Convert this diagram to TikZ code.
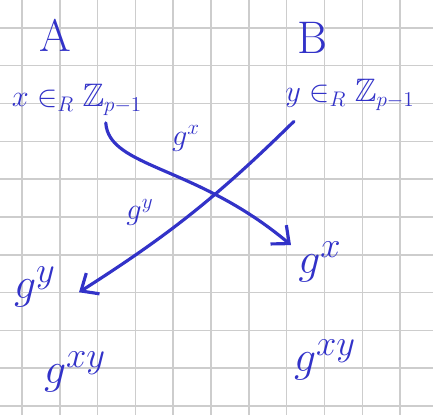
\documentclass[tikz,border=0pt]{standalone}
\usepackage{amssymb}
\usetikzlibrary{arrows.meta}
\definecolor{ink}{RGB}{50,50,200}
\definecolor{paper}{RGB}{205,205,205}

\begin{document}
\begin{tikzpicture}[x=0.02cm,y=-0.02cm,>={Straight Barb[length=8pt,width=14pt]},
    lbl/.style={text=ink,inner sep=0pt},
    conn/.style={ink,line width=1.8pt,line cap=round,line join=round,->}]
    \def\sq{37.8}
    \useasboundingbox (0,0) rectangle (433,415);
    % squared paper
    \foreach \i in {0,...,10}{
        \draw[paper,line width=0.8pt] (22+\sq*\i,0) -- (22+\sq*\i,415);
        \draw[paper,line width=0.8pt] (0,28+\sq*\i) -- (433,28+\sq*\i);
    }
    \node[lbl,font=\fontsize{26}{26}\selectfont] (A) at (55,35) {A};
    \node[lbl,font=\fontsize{26}{26}\selectfont] (B) at (312,38) {B};
    \node[lbl,font=\fontsize{18.5}{18.5}\selectfont] (xA) at (77,100) {$x \in_R \mathbb{Z}_{p-1}$};
    \node[lbl,font=\fontsize{18.5}{18.5}\selectfont] (yB) at (350,95) {$y \in_R \mathbb{Z}_{p-1}$};
    \node[lbl,font=\fontsize{28}{28}\selectfont] (gyA) at (35,287) {$g^y$};
    \node[lbl,font=\fontsize{28}{28}\selectfont] (gxB) at (320,262) {$g^x$};
    \node[lbl,font=\fontsize{30}{30}\selectfont] (gxyA) at (75,372) {$g^{xy}$};
    \node[lbl,font=\fontsize{30}{30}\selectfont] (gxyB) at (325,360) {$g^{xy}$};
    % exchange
    \draw[conn] ([xshift=5pt,yshift=-6pt]yB.south west) to[bend left=6] ([xshift=13pt,yshift=-3pt]gyA.east);
    \draw[conn] ([xshift=-3pt,yshift=-4pt]xA.-25) .. controls +(3,45) and +(-95,-80) .. ([xshift=-4pt,yshift=-2pt]gxB.north west);
    \node[lbl,font=\fontsize{18}{18}\selectfont] (lx) at (186,138) {$g^x$};
    \node[lbl,font=\fontsize{18}{18}\selectfont] (ly) at (140,212) {$g^y$};
\end{tikzpicture}
\end{document}
